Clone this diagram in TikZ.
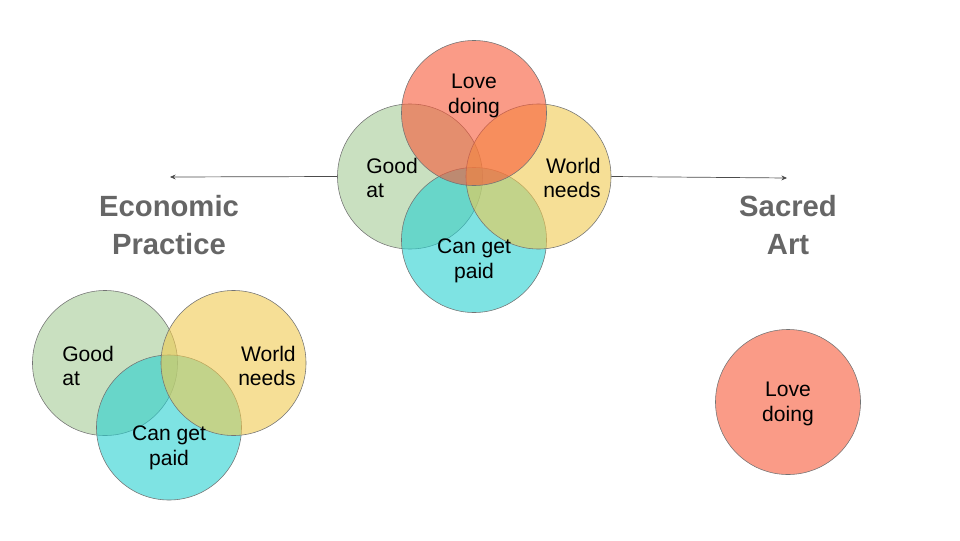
\documentclass[tikz,border=0pt]{standalone}
\usepackage{fontspec}
\setmainfont{Liberation Sans}
\usepackage{xcolor}
\usetikzlibrary{arrows.meta,calc,positioning}

\definecolor{lovecol}{RGB}{247,88,55}
\definecolor{goodcol}{RGB}{165,203,150}
\definecolor{worldcol}{RGB}{240,202,80}
\definecolor{paidcol}{RGB}{40,208,208}
\definecolor{headcol}{RGB}{102,102,102}

\begin{document}
\begin{tikzpicture}[x=0.025cm, y=-0.025cm, >=Stealth,
  blob/.style={circle, draw=black!55, line width=0.4pt, fill opacity=0.6,
               minimum size=3.625cm, inner sep=0pt},
  lbl/.style={inner sep=0pt, font=\fontsize{15}{17.5}\selectfont},
  head/.style={inner sep=0pt, align=center, text=headcol,
               font=\fontsize{20.8}{27}\selectfont\bfseries},
  pointer/.style={draw=black!70, line width=0.5pt,
                  arrows={-Stealth[length=4pt, width=3.5pt]}}]

\useasboundingbox (0,0) rectangle (960,540);

% ---- Top: four circles ----
\node[blob, fill=goodcol]  (good1)  at (410,176.5) {};
\node[blob, fill=paidcol]  (paid1)  at (474,240) {};
\node[blob, fill=worldcol] (world1) at (538.5,176.5) {};
\node[blob, fill=lovecol]  (love1)  at (474,113) {};

\node[lbl, align=center] (love1t)  at (474,96) {Love\\doing};
\node[lbl, align=left, anchor=west]  (good1t)  at (366,178) {Good\\at};
\node[lbl, align=right, anchor=east] (world1t) at (601,178) {World\\needs};
\node[lbl, align=center] (paid1t)  at (474,261) {Can get\\paid};

% Pointers to both sides
\coordinate (econtip)   at (170,177);
\coordinate (sacredtip) at (787,178);
\draw[pointer] (good1.west) -- (econtip);
\draw[pointer] (world1.east) -- (sacredtip);

% ---- Headings ----
\node[head] (econ)   at (169,225) {Economic\\Practice};
\node[head] (sacred) at (788,225) {Sacred\\Art};

% ---- Bottom left: three circles ----
\node[blob, fill=goodcol]  (good2)  at (105,363) {};
\node[blob, fill=paidcol]  (paid2)  at (169,427.5) {};
\node[blob, fill=worldcol] (world2) at (233.5,363) {};

\node[lbl, align=left, anchor=west]  (good2t)  at (62,366) {Good\\at};
\node[lbl, align=right, anchor=east] (world2t) at (296,366) {World\\needs};
\node[lbl, align=center] (paid2t)  at (169,448) {Can get\\paid};

% ---- Bottom right: one circle ----
\node[blob, fill=lovecol] (love2) at (788,402) {};
\node[lbl, align=center] (love2t) at (788,404) {Love\\doing};

\end{tikzpicture}
\end{document}
